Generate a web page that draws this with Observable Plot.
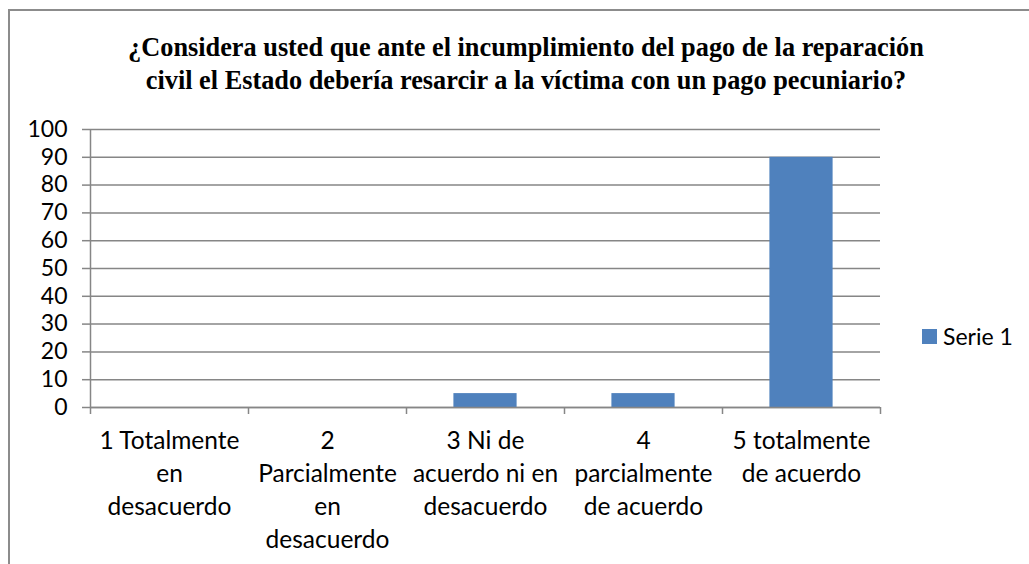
<!DOCTYPE html>
<html>
<head>
<meta charset="utf-8">
<script src="https://cdn.jsdelivr.net/npm/d3@7"></script>
<script src="https://cdn.jsdelivr.net/npm/@observablehq/plot@0.6"></script>
<style>
  html, body { margin: 0; padding: 0; background: #fff; }
  #wrap { position: relative; width: 1029px; height: 564px; overflow: hidden; }
  #frame { position: absolute; left: 8px; top: 9px; width: 1040px; height: 600px; border-left: 2px solid #8c8c8c; border-top: 2px solid #8c8c8c; }
  #title { position: absolute; left: 26px; width: 1000px; top: 31px; text-align: center; font-family: "Liberation Serif", "Times New Roman", serif; font-weight: bold; font-size: 26.3px; line-height: 33px; color: #000; }
  #legend { position: absolute; left: 922px; top: 322px; font-family: Lato, sans-serif; font-size: 23px; color: #000; display: flex; align-items: center; }
  #legend .sw { width: 15px; height: 15px; background: #4F81BD; margin-right: 6px; }
  #chart { position: absolute; left: 0; top: 0; }
</style>
</head>
<body>
<div id="wrap">
  <div id="frame"></div>
  <div id="chart"></div>
  <div id="title">¿Considera usted que ante el incumplimiento del pago de la reparación<br>civil el Estado debería resarcir a la víctima con un pago pecuniario?</div>
  <div id="legend"><div class="sw"></div><span id="legtext"></span></div>
</div>
<script>
const categories = [
  "1 Totalmente\nen\ndesacuerdo",
  "2\nParcialmente\nen\ndesacuerdo",
  "3 Ni de\nacuerdo ni en\ndesacuerdo",
  "4\nparcialmente\nde acuerdo",
  "5 totalmente\nde acuerdo"
];
const values = [0, 0, 5, 5, 90];
const seriesName = "Serie 1";
const yTicks = [0, 10, 20, 30, 40, 50, 60, 70, 80, 90, 100];

document.getElementById("legtext").textContent = seriesName;

const data = categories.map((c, i) => ({i, c, v: values[i]}));
const boundaries = [0, ...data.map(d => d.i + 1)];
const centers = data.map(d => d.i + 0.5);
const axisColor = "#868686";

const chart = Plot.plot({
  width: 1029,
  height: 564,
  marginLeft: 90,
  marginRight: 149,
  marginTop: 129,
  marginBottom: 157,
  x: {domain: [0, categories.length]},
  y: {domain: [0, 100]},
  style: {fontFamily: "Lato, sans-serif", fontSize: "23px", color: "#000", background: "transparent", overflow: "visible"},
  marks: [
    Plot.gridY(yTicks, {stroke: axisColor, strokeOpacity: 1, strokeWidth: 1.5}),
    Plot.axisY(yTicks, {tickSize: 8, tickPadding: 15, stroke: axisColor, strokeWidth: 1.5, label: null, fontSize: 23, fill: "#000"}),
    Plot.rectY(data, {x1: "i", x2: d => d.i + 1, y: "v", fill: "#4F81BD", insetLeft: 47.4, insetRight: 47.4}),
    Plot.ruleY([0], {stroke: axisColor, strokeWidth: 1.5}),
    Plot.ruleX([0], {y1: 0, y2: 100, stroke: axisColor, strokeWidth: 1.5}),
    Plot.axisX(boundaries, {tickSize: 7, tickFormat: () => "", stroke: axisColor, strokeWidth: 1.5, label: null}),
    Plot.axisX(centers, {tickSize: 0, tickPadding: 18, tickFormat: t => categories[Math.floor(t)], lineHeight: 1.35, fontSize: 24.5, fill: "#000", label: null})
  ]
});
document.getElementById("chart").appendChild(chart);
</script>
</body>
</html>
